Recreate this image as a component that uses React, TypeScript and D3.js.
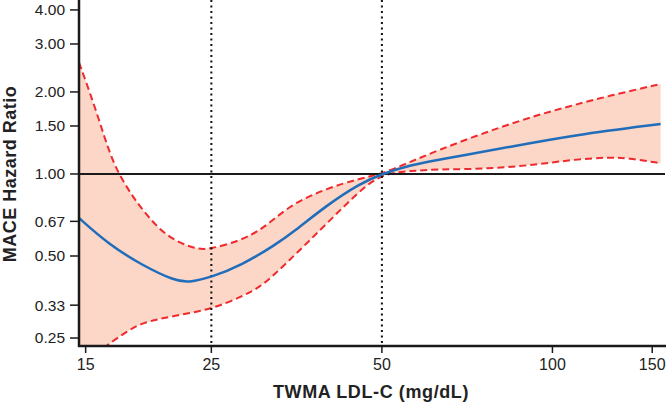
import React from 'react';
import * as d3 from 'd3';

// LDL-C (mg/dL) vs hazard ratio
const estimate: [number, number][] = [
  [14.6, 0.689], [16.45, 0.553], [18.84, 0.463], [21.58, 0.405], [22.78, 0.4],
  [24.89, 0.416], [28.3, 0.463], [32.4, 0.549], [34.95, 0.614], [40.0, 0.769],
  [45.8, 0.924], [50.0, 1.0], [56.2, 1.079], [63.5, 1.132], [68.9, 1.164],
  [83.3, 1.253], [109.3, 1.39], [155.2, 1.526],
];

const upper: [number, number][] = [
  [14.6, 2.566], [15.58, 1.766], [16.45, 1.225], [17.13, 1.006], [18.09, 0.837],
  [18.84, 0.745], [20.72, 0.589], [23.4, 0.529], [24.89, 0.529], [28.3, 0.572],
  [30.5, 0.623], [32.4, 0.688], [34.95, 0.781], [40.0, 0.886], [45.8, 0.964],
  [50.0, 1.0], [56.2, 1.11], [63.5, 1.232], [72.7, 1.371], [83.3, 1.515],
  [95.5, 1.66], [109.3, 1.792], [125.2, 1.93], [155.2, 2.14],
];

const lower: [number, number][] = [
  [14.6, 0.19], [15.5, 0.212], [16.34, 0.2356], [17.73, 0.2637], [18.84, 0.285],
  [21.58, 0.302], [24.89, 0.318], [28.3, 0.3545], [30.5, 0.385], [32.4, 0.43],
  [34.95, 0.5], [40.0, 0.659], [45.8, 0.873], [50.0, 1.0], [56.2, 1.028],
  [63.5, 1.04], [72.7, 1.042], [83.3, 1.058], [95.5, 1.088], [109.3, 1.13],
  [125.2, 1.152], [135.9, 1.145], [155.2, 1.095],
];

const xTicks = [15, 25, 50, 100, 150];
const yTicks = [0.25, 0.33, 0.5, 0.67, 1.0, 1.5, 2.0, 3.0, 4.0];
const refLines = [25, 50];

const W = 666;
const H = 404;
const left = 79;
const right = 665;
const top = 0;
const bottom = 346;
const font = 'Liberation Sans, Arial, Helvetica, sans-serif';

const App = () => {
  const x = d3.scaleLog().domain([14.6, 158]).range([left, right]);
  const y = d3.scaleLog().domain([0.2337, 4.35]).range([bottom, top]);

  const line = d3
    .line<[number, number]>()
    .x((d) => x(d[0]))
    .y((d) => y(d[1]))
    .curve(d3.curveBasis);

  const upperPath = line(upper) || '';
  const lowerPath = line(lower) || '';
  // fill between bounds: upper forward, lower backward
  const lowerRev = (line(lower.slice().reverse()) || '').replace(/^M/, 'L');
  const areaPath = upperPath + lowerRev + 'Z';

  const fmt = d3.format('.2f');

  return (
    <div style={{ position: 'fixed', left: 0, top: 0 }}>
      <svg width={W} height={H} style={{ display: 'block', background: '#fff' }}>
        <defs>
          <clipPath id="plot">
            <rect x={left} y={top} width={right - left} height={bottom - top} />
          </clipPath>
        </defs>

        <g clipPath="url(#plot)">
          <path d={areaPath} fill="#fcd6c6" stroke="none" />
          <path d={upperPath} fill="none" stroke="#ee2a2e" strokeWidth={2} strokeDasharray="7 4" />
          <path d={lowerPath} fill="none" stroke="#ee2a2e" strokeWidth={2} strokeDasharray="7 4" />
        </g>

        {refLines.map((v) => (
          <line
            key={v}
            x1={x(v)}
            x2={x(v)}
            y1={top}
            y2={bottom}
            stroke="#111"
            strokeWidth={2}
            strokeDasharray="2 3.5"
          />
        ))}

        <line x1={left} x2={right} y1={y(1)} y2={y(1)} stroke="#1a1a1a" strokeWidth={2} />

        <g clipPath="url(#plot)">
          <path d={line(estimate) || ''} fill="none" stroke="#1f6dbb" strokeWidth={2.5} />
        </g>

        {/* y axis */}
        <line x1={left} x2={left} y1={top} y2={bottom + 1} stroke="#1a1a1a" strokeWidth={2.5} />
        {yTicks.map((v) => (
          <g key={v} transform={`translate(0, ${y(v)})`}>
            <line x1={left - 9} x2={left} stroke="#1a1a1a" strokeWidth={1.5} />
            <text
              x={left - 14}
              dy="0.35em"
              textAnchor="end"
              fontFamily={font}
              fontSize={15.5}
              fill="#222"
            >
              {fmt(v)}
            </text>
          </g>
        ))}

        {/* x axis */}
        <line x1={left - 1} x2={right + 1} y1={bottom} y2={bottom} stroke="#1a1a1a" strokeWidth={2.5} />
        {xTicks.map((v) => (
          <g key={v} transform={`translate(${x(v)}, 0)`}>
            <line y1={bottom} y2={bottom + 7} stroke="#1a1a1a" strokeWidth={1.5} />
            <text y={bottom + 23.5} textAnchor="middle" fontFamily={font} fontSize={16} fill="#222">
              {v}
            </text>
          </g>
        ))}

        <text
          x={371}
          y={398}
          textAnchor="middle"
          fontFamily={font}
          fontWeight="bold"
          fontSize={18}
          letterSpacing={0.6}
          fill="#222"
        >
          TWMA LDL-C (mg/dL)
        </text>
        <text
          transform={`translate(15.5, 174) rotate(-90)`}
          textAnchor="middle"
          fontFamily={font}
          fontWeight="bold"
          fontSize={18}
          letterSpacing={0.5}
          fill="#222"
        >
          MACE Hazard Ratio
        </text>
      </svg>
    </div>
  );
};

export default App;
